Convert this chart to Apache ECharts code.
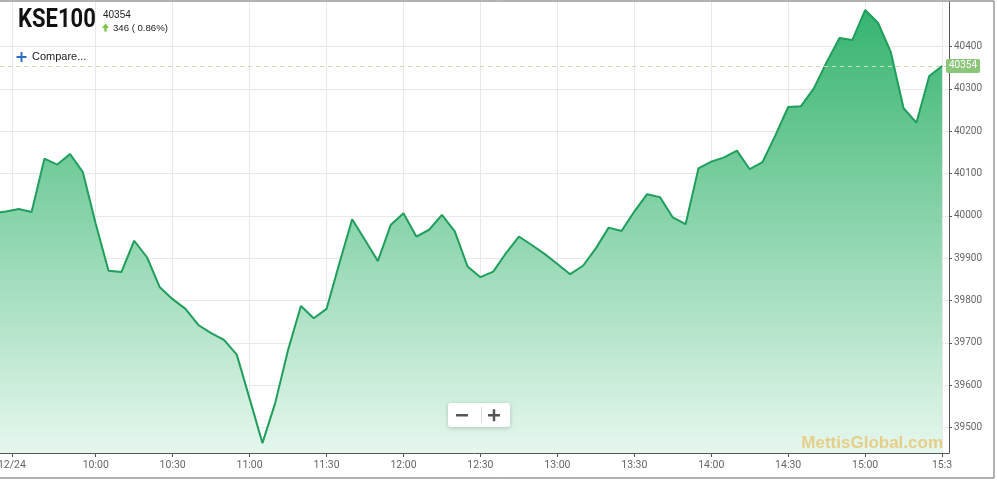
<!DOCTYPE html>
<html>
<head>
<meta charset="utf-8">
<script src="https://cdn.jsdelivr.net/npm/echarts@6/dist/echarts.min.js"></script>
<style>html,body{margin:0;padding:0;background:#fff;}#c{width:997px;height:481px;}</style>
</head>
<body>
<div id="c"></div>
<script>
// ---- data ----
const times = ["09:20","09:25","09:30","09:35","09:40","09:45","09:50","09:55",
"10:00","10:05","10:10","10:15","10:20","10:25","10:30","10:35","10:40","10:45","10:50","10:55",
"11:00","11:05","11:10","11:15","11:20","11:25","11:30","11:35","11:40","11:45","11:50","11:55",
"12:00","12:05","12:10","12:15","12:20","12:25","12:30","12:35","12:40","12:45","12:50","12:55",
"13:00","13:05","13:10","13:15","13:20","13:25","13:30","13:35","13:40","13:45","13:50","13:55",
"14:00","14:05","14:10","14:15","14:20","14:25","14:30","14:35","14:40","14:45","14:50","14:55",
"15:00","15:05","15:10","15:15","15:20","15:25","15:30"];
const values = [40007,40010,40016,40009,40135,40121,40146,40103,
39981,39870,39867,39941,39902,39831,39803,39780,39742,39723,39707,39672,
39568,39463,39558,39683,39787,39758,39780,39888,39992,39943,39893,39978,
40006,39951,39967,40002,39963,39880,39855,39868,39912,39951,39931,39910,
39886,39862,39882,39923,39972,39964,40010,40051,40044,39996,39980,40112,
40128,40138,40154,40110,40127,40190,40257,40259,40301,40363,40420,40415,
40486,40456,40387,40254,40220,40330,40354];
const xTickTimes = ["09:27.3","10:00","10:30","11:00","11:30","12:00","12:30","13:00","13:30","14:00","14:30","15:00","15:30"];
const xTickLabels = ["12/24","10:00","10:30","11:00","11:30","12:00","12:30","13:00","13:30","14:00","14:30","15:00","15:3"];
const yTicks = [39500,39600,39700,39800,39900,40000,40100,40200,40300,40400];
const lastValue = 40354;
const change = "346 ( 0.86%)";
const symbolName = "KSE100";

function toMin(s){const p=s.split(':');return (+p[0])*60+parseFloat(p[1]);}
const xTickVals = xTickTimes.map(toMin);
const seriesData = times.map((t,i)=>[toMin(t), values[i]]);

const chart = echarts.init(document.getElementById('c'), null, {renderer:'canvas'});
const axisFont = 'Roboto, sans-serif';
chart.setOption({
  animation:false,
  backgroundColor:'#fff',
  grid:{left:0,right:48,top:2,bottom:28,containLabel:false,outerBoundsMode:'none'},
  xAxis:{
    type:'value', min:562.68, max:932.7,
    axisLine:{show:true,lineStyle:{color:'#555',width:1}},
    axisTick:{show:true,customValues:xTickVals,length:4,lineStyle:{color:'#555'}},
    axisLabel:{customValues:xTickVals,color:'#666',fontSize:10.5,fontFamily:axisFont,margin:7,hideOverlap:false,
      formatter:function(v){const i=xTickVals.findIndex(x=>Math.abs(x-v)<0.01);return i>=0?xTickLabels[i]:'';}},
    splitLine:{show:true,lineStyle:{color:'#e8e8e8',width:1}}
  },
  yAxis:{
    type:'value', position:'right', min:39439.6, max:40505, scale:true,
    axisLine:{show:true,lineStyle:{color:'#555',width:1}},
    axisTick:{show:true,customValues:yTicks,length:3,lineStyle:{color:'#555'}},
    axisLabel:{customValues:yTicks,color:'#666',fontSize:10,fontFamily:axisFont,margin:5,
      formatter:function(v){return String(Math.round(v));}},
    splitLine:{show:true,lineStyle:{color:'#e8e8e8',width:1}}
  },
  series:[{
    type:'line', data:seriesData, symbol:'none', clip:true,
    lineStyle:{color:'#1f9e5c',width:2},
    areaStyle:{origin:'start',opacity:1,color:new echarts.graphic.LinearGradient(0,0,0,1,[
      {offset:0,color:'#36b46f'},{offset:1,color:'#e6f7ee'}])},
    markLine:{
      silent:true, symbol:['none','none'],
      lineStyle:{color:'#cbdcaa',type:[4,4],width:1},
      label:{show:true,position:'end',formatter:String(lastValue),color:'#fff',
        fontSize:10,fontFamily:axisFont,backgroundColor:'#8cc67a',padding:[2,3,2,3],
        borderRadius:2,distance:-3},
      data:[{yAxis:lastValue}]
    }
  }],
  graphic:[
    {type:'rect',shape:{x:-2,y:1,width:996,height:477},style:{fill:'none',stroke:'#666',lineWidth:1},z:100,silent:true},
    {type:'text',x:18,y:8,scaleX:0.88,style:{text:symbolName,fontFamily:'Roboto, sans-serif',fontWeight:'bold',fontSize:25,fill:'#111'},z:100},
    {type:'text',x:103,y:10,style:{text:String(lastValue),fontFamily:'Liberation Sans, Arial, sans-serif',fontSize:10,fill:'#222'},z:100},
    {type:'polygon',shape:{points:[[105.5,23.5],[102,28],[104.3,28],[104.3,31.5],[106.7,31.5],[106.7,28],[109,28]]},style:{fill:'#7cc243'},z:100},
    {type:'text',x:113,y:23,style:{text:change,fontFamily:'Liberation Sans, Arial, sans-serif',fontSize:9.6,fill:'#222'},z:100},
    {type:'rect',shape:{x:16.5,y:56,width:10,height:2},style:{fill:'#2f6cc2'},z:100},
    {type:'rect',shape:{x:20.5,y:52,width:2,height:10},style:{fill:'#2f6cc2'},z:100},
    {type:'text',x:32,y:51,style:{text:'Compare...',fontFamily:'Liberation Sans, Arial, sans-serif',fontSize:11,fill:'#222'},z:100},
    {type:'text',x:943,y:443,style:{text:'MettisGlobal.com',align:'right',verticalAlign:'middle',fontFamily:'Liberation Sans, Arial, sans-serif',fontWeight:'bold',fontSize:17,fill:'rgba(230,200,120,0.85)'},z:100},
    {type:'rect',shape:{x:448,y:403,width:62,height:24,r:3},style:{fill:'#fff',shadowBlur:4,shadowColor:'rgba(0,0,0,0.2)',shadowOffsetY:1},z:100},
    {type:'rect',shape:{x:456,y:414,width:12,height:2.5},style:{fill:'#555'},z:101},
    {type:'rect',shape:{x:488,y:414,width:12,height:2.5},style:{fill:'#555'},z:101},
    {type:'rect',shape:{x:492.75,y:409.25,width:2.5,height:12},style:{fill:'#555'},z:101},
    {type:'rect',shape:{x:481,y:407,width:1,height:16},style:{fill:'#ddd'},z:101}
  ]
});
</script>
</body>
</html>
